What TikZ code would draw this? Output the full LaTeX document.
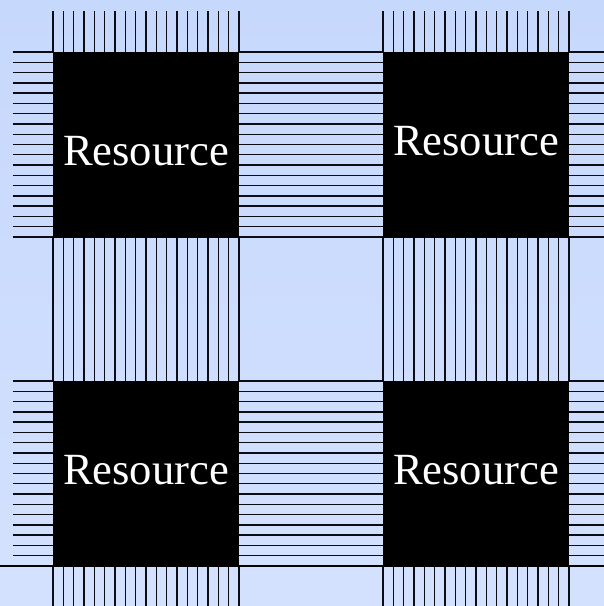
\documentclass[tikz,border=0pt]{standalone}
\usepackage{fontspec}
\setmainfont{Liberation Serif}
\newfontfamily\resfont{Liberation Serif}
\definecolor{bgtop}{RGB}{198,216,252}
\definecolor{bgbot}{RGB}{212,225,254}
\definecolor{pin}{RGB}{12,12,20}
\tikzset{
  res/.style={fill=black, draw=none, minimum width=186pt, minimum height=186pt, inner sep=0pt, outer sep=0pt},
  reslabel/.style={text=white, anchor=base, inner sep=0pt, font=\resfont\fontsize{44.6}{50}\selectfont},
  pinline/.style={draw=pin, line width=1.4pt},
  baseline/.style={draw=black, line width=2.6pt}
}
\begin{document}
\begin{tikzpicture}[x=1pt,y=-1pt]
\useasboundingbox (0,0) rectangle (604,606);
\shade[top color=bgtop, bottom color=bgbot] (0,0) rectangle (604,606);
% vertical pins
\foreach \cx in {53,383}{
  \foreach \i in {0,...,18}{
    \pgfmathsetmacro{\xx}{\cx+\i*186/18}
    \draw[pinline] (\xx,11) -- (\xx,52);
    \draw[pinline] (\xx,237) -- (\xx,381);
    \draw[pinline] (\xx,567) -- (\xx,606);
  }
}
% horizontal pins
\foreach \cy in {52,381}{
  \foreach \i in {0,...,18}{
    \pgfmathsetmacro{\yy}{\cy+\i*185/18}
    \draw[pinline] (12.7,\yy) -- (53,\yy);
    \draw[pinline] (239,\yy) -- (383,\yy);
    \draw[pinline] (569,\yy) -- (604,\yy);
  }
}
\coordinate (bl0) at (0,566);
\coordinate (bl1) at (604,566);
\draw[baseline] (bl0) -- (bl1);
% resources
\node[res] (tl) at (146,144.5) {};
\node[res] (tr) at (476,144.5) {};
\node[res] (bl) at (146,474) {};
\node[res] (br) at (476,474) {};
\node[reslabel] (tlt) at (146,165) {Resource};
\node[reslabel] (trt) at (476,155) {Resource};
\node[reslabel] (blt) at (146,484) {Resource};
\node[reslabel] (brt) at (476,484) {Resource};
\end{tikzpicture}
\end{document}
